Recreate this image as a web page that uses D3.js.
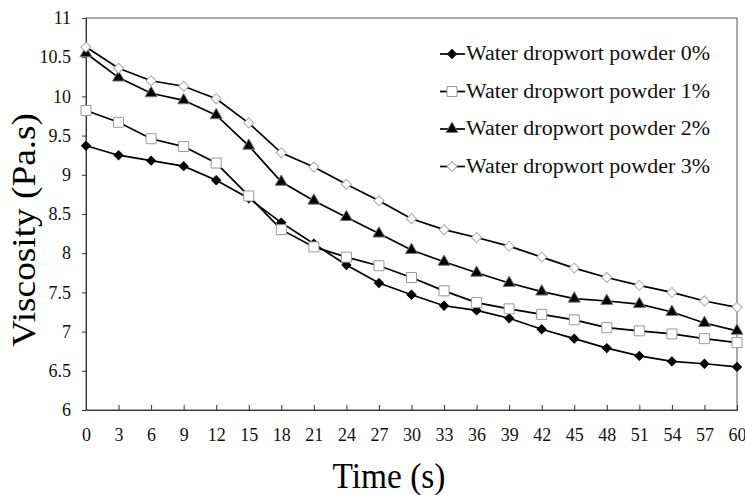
<!DOCTYPE html>
<html>
<head>
<meta charset="utf-8">
<script src="https://cdn.jsdelivr.net/npm/d3@7"></script>
<style>
  body { margin: 0; background: #fff; }
  svg { display: block; }
  svg text { font-family: "Liberation Serif", "Times New Roman", serif !important; }
</style>
</head>
<body>
<svg id="chart" width="745" height="495"></svg>
<script>
const times = [0, 3, 6, 9, 12, 15, 18, 21, 24, 27, 30, 33, 36, 39, 42, 45, 48, 51, 54, 57, 60];
const yTicks = [6, 6.5, 7, 7.5, 8, 8.5, 9, 9.5, 10, 10.5, 11];
const seriesNames = ["Water dropwort powder 0%", "Water dropwort powder 1%", "Water dropwort powder 2%", "Water dropwort powder 3%"];

const powder0 = [9.37, 9.25, 9.18, 9.11, 8.93, 8.70, 8.39, 8.12, 7.85, 7.62, 7.47, 7.33, 7.27, 7.17, 7.03, 6.91, 6.79, 6.69, 6.62, 6.59, 6.55];
const powder1 = [9.82, 9.67, 9.46, 9.36, 9.15, 8.73, 8.30, 8.08, 7.95, 7.84, 7.69, 7.52, 7.37, 7.29, 7.22, 7.15, 7.05, 7.01, 6.97, 6.91, 6.86];
const powder2 = [10.55, 10.24, 10.04, 9.95, 9.76, 9.37, 8.91, 8.67, 8.46, 8.25, 8.04, 7.89, 7.75, 7.62, 7.51, 7.42, 7.39, 7.35, 7.25, 7.11, 7.01];
const powder3 = [10.63, 10.36, 10.20, 10.13, 9.97, 9.66, 9.28, 9.10, 8.88, 8.67, 8.44, 8.30, 8.20, 8.09, 7.95, 7.81, 7.69, 7.59, 7.50, 7.39, 7.31];

const allSeries = [powder0, powder1, powder2, powder3];

// marker look per series: filled diamond, open square, filled triangle, open diamond
const markers = [
  { type: d3.symbolSquare, size: 40, rotate: 45, fill: "#000", stroke: "#000" },
  { type: d3.symbolSquare, size: 100, rotate: 0, fill: "#fff", stroke: "#999" },
  { type: d3.symbolTriangle, size: 62, rotate: 0, fill: "#000", stroke: "#777" },
  { type: d3.symbolSquare, size: 50, rotate: 45, fill: "#fff", stroke: "#aaa" }
];

const plotL = 86, plotR = 737, plotT = 18, plotB = 410;
const serif = "Liberation Serif, Times New Roman, serif";

const svg = d3.select("#chart").attr("font-family", serif);

const x = d3.scaleLinear().domain([0, 60]).range([plotL, plotR]);
const y = d3.scaleLinear().domain([6, 11]).range([plotB, plotT]);

// frame
svg.append("rect")
  .attr("x", plotL).attr("y", plotT)
  .attr("width", plotR - plotL).attr("height", plotB - plotT)
  .attr("fill", "none").attr("stroke", "#555").attr("stroke-width", 1);

// y axis
const yAxis = svg.append("g")
  .attr("transform", `translate(${plotL},0)`)
  .call(d3.axisLeft(y).tickValues(yTicks).tickSize(4).tickPadding(11).tickFormat(d3.format("")))
  .attr("font-family", serif);
yAxis.select(".domain").attr("stroke", "#333");
yAxis.selectAll(".tick line").attr("stroke", "#333");
yAxis.selectAll("text")
  .attr("font-family", serif)
  .attr("font-size", 18)
  .attr("fill", "#111");

// x axis, ticks pointing inward
const xAxis = svg.append("g")
  .attr("transform", `translate(0,${plotB})`)
  .call(d3.axisBottom(x).tickValues(times).tickSize(-5).tickPadding(18))
  .attr("font-family", serif);
xAxis.select(".domain").attr("stroke", "#333");
xAxis.selectAll(".tick line").attr("stroke", "#333");
xAxis.selectAll("text")
  .attr("font-family", serif)
  .attr("font-size", 18)
  .attr("fill", "#111");

// axis titles
svg.append("text")
  .attr("x", 389).attr("y", 488)
  .attr("text-anchor", "middle")
  .attr("font-size", 35)
  .attr("textLength", 113)
  .attr("lengthAdjust", "spacingAndGlyphs")
  .text("Time (s)");

svg.append("text")
  .attr("transform", "translate(35,230) rotate(-90)")
  .attr("text-anchor", "middle")
  .attr("font-size", 33)
  .attr("textLength", 234)
  .attr("lengthAdjust", "spacingAndGlyphs")
  .text("Viscosity (Pa.s)");

const line = d3.line()
  .x((d, i) => x(times[i]))
  .y(d => y(d));

function drawMarker(g, m, cx, cy) {
  g.append("path")
    .attr("d", d3.symbol().type(m.type).size(m.size)())
    .attr("transform", `translate(${cx},${cy}) rotate(${m.rotate})`)
    .attr("fill", m.fill)
    .attr("stroke", m.stroke)
    .attr("stroke-width", 1);
}

allSeries.forEach((vals, s) => {
  const g = svg.append("g");
  g.append("path")
    .datum(vals)
    .attr("d", line)
    .attr("fill", "none")
    .attr("stroke", "#000")
    .attr("stroke-width", 1.7);
  vals.forEach((v, i) => drawMarker(g, markers[s], x(times[i]), y(v)));
});

// legend
const legend = svg.append("g");
seriesNames.forEach((name, s) => {
  const cy = 54 + s * 37.5;
  legend.append("line")
    .attr("x1", 440).attr("x2", 465)
    .attr("y1", cy).attr("y2", cy)
    .attr("stroke", "#000").attr("stroke-width", 1.7);
  drawMarker(legend, markers[s], 452, cy);
  legend.append("text")
    .attr("x", 466).attr("y", cy + 6)
    .attr("font-size", 20)
    .attr("font-family", serif)
    .attr("textLength", 244)
    .attr("lengthAdjust", "spacingAndGlyphs")
    .attr("fill", "#111")
    .text(name);
});
</script>
</body>
</html>
